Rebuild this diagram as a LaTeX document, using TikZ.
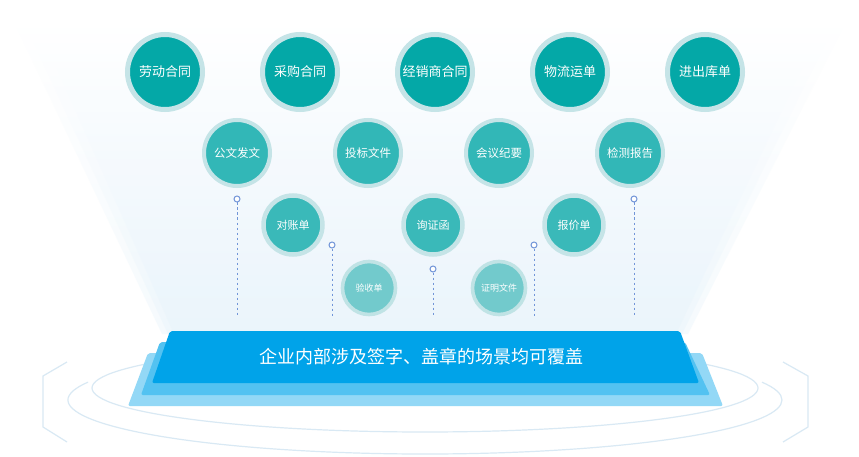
\documentclass[tikz,border=0pt]{standalone}
\usepackage{fontspec}
\newfontfamily\cjk{Noto Sans CJK SC}
\definecolor{ringc}{HTML}{C5E4E7}
\definecolor{ringd}{HTML}{C0E3E5}
\definecolor{tealA}{HTML}{04A8A7}
\definecolor{tealB}{HTML}{32B7B7}
\definecolor{tealC}{HTML}{3AB9B9}
\definecolor{tealD}{HTML}{72CACC}
\definecolor{beamc}{HTML}{E3F2FB}
\definecolor{platA}{HTML}{00A3E9}
\definecolor{platB}{HTML}{53C2F1}
\definecolor{platC}{HTML}{93D8F6}
\definecolor{ringline}{HTML}{D9E9F4}
\definecolor{pinc}{HTML}{7195D8}
\tikzset{
  bubA/.style={circle, inner sep=0pt, minimum size=75pt, line width=5pt, draw=ringc, fill=tealA, text=white, font=\cjk\fontsize{13}{15}\selectfont},
  bubB/.style={circle, inner sep=0pt, minimum size=66pt, line width=4pt, draw=ringc, fill=tealB, text=white, font=\cjk\fontsize{11.5}{13}\selectfont},
  bubC/.style={circle, inner sep=0pt, minimum size=59pt, line width=4.5pt, draw=ringc, fill=tealC, text=white, font=\cjk\fontsize{11}{13}\selectfont},
  bubD/.style={circle, inner sep=0pt, minimum size=53pt, line width=3.6pt, draw=ringd, fill=tealD, text=white, font=\cjk\fontsize{9}{11}\selectfont},
  pinhead/.style={circle, inner sep=0pt, minimum size=6pt, line width=1pt, draw=pinc, fill=white},
  pinline/.style={draw=pinc, line width=0.9pt, dash pattern=on 2.5pt off 2.5pt},
  orbit/.style={draw=ringline, line width=1.2pt},
  beam/.style={top color=white, bottom color=beamc, opacity=0.34},
}
\begin{document}
\begin{tikzpicture}[x=1pt,y=-1pt]
\useasboundingbox (0,0) rectangle (859,457);
\fill[white] (0,0) rectangle (859,457);
% light beam (soft edges by stacking)
\shade[beam] (14,22) -- (846,22) -- (688,334) -- (162,334) -- cycle;
\shade[beam] (26,26) -- (834,26) -- (682,334) -- (168,334) -- cycle;
\shade[beam] (40,30) -- (820,30) -- (676,334) -- (174,334) -- cycle;
% orbits
\draw[orbit] (425,388) ellipse [x radius=333, y radius=44];
\draw[orbit] (425,400) ++(199.3:357 and 54) arc[start angle=199.3, end angle=-19.3, x radius=357, y radius=54];
\draw[orbit] (67,362) -- (43,376) -- (43,427) -- (67,442);
\draw[orbit] (783,362) -- (808,376) -- (808,427) -- (783,442);
% platform
\fill[platC, rounded corners=2pt] (148,353) -- (702,353) -- (723,406) -- (128,406) -- cycle;
\fill[platB, rounded corners=2pt] (160,342) -- (685,342) -- (710,395) -- (141,395) -- cycle;
\fill[platA, rounded corners=2pt] (170,331) -- (680,331) -- (699,383) -- (152,383) -- cycle;
\node[text=white, font=\cjk\fontsize{18}{20}\selectfont] (slogan) at (421,357) {企业内部涉及签字、盖章的场景均可覆盖};
% pins
\node[pinhead] (h1) at (237,199) {};
\node[pinhead] (h2) at (332,245) {};
\node[pinhead] (h3) at (433,269) {};
\node[pinhead] (h4) at (534,245) {};
\node[pinhead] (h5) at (634,199) {};
\coordinate (f1) at (237,317);
\coordinate (f2) at (332,317);
\coordinate (f3) at (433,317);
\coordinate (f4) at (534,317);
\coordinate (f5) at (634,317);
\foreach \i in {1,...,5} \draw[pinline] (h\i.south) -- (f\i);
% bubbles
\node[bubA] (a1) at (165,72) {劳动合同};
\node[bubA] (a2) at (300,72) {采购合同};
\node[bubA] (a3) at (435,72) {经销商合同};
\node[bubA] (a4) at (570,72) {物流运单};
\node[bubA] (a5) at (705,72) {进出库单};
\node[bubB] (b1) at (237,153) {公文发文};
\node[bubB] (b2) at (368,153) {投标文件};
\node[bubB] (b3) at (499,153) {会议纪要};
\node[bubB] (b4) at (630,153) {检测报告};
\node[bubC] (c1) at (293,225) {对账单};
\node[bubC] (c2) at (433,225) {询证函};
\node[bubC] (c3) at (574,225) {报价单};
\node[bubD] (d1) at (369,288) {验收单};
\node[bubD] (d2) at (499,288) {证明文件};
\end{tikzpicture}
\end{document}
